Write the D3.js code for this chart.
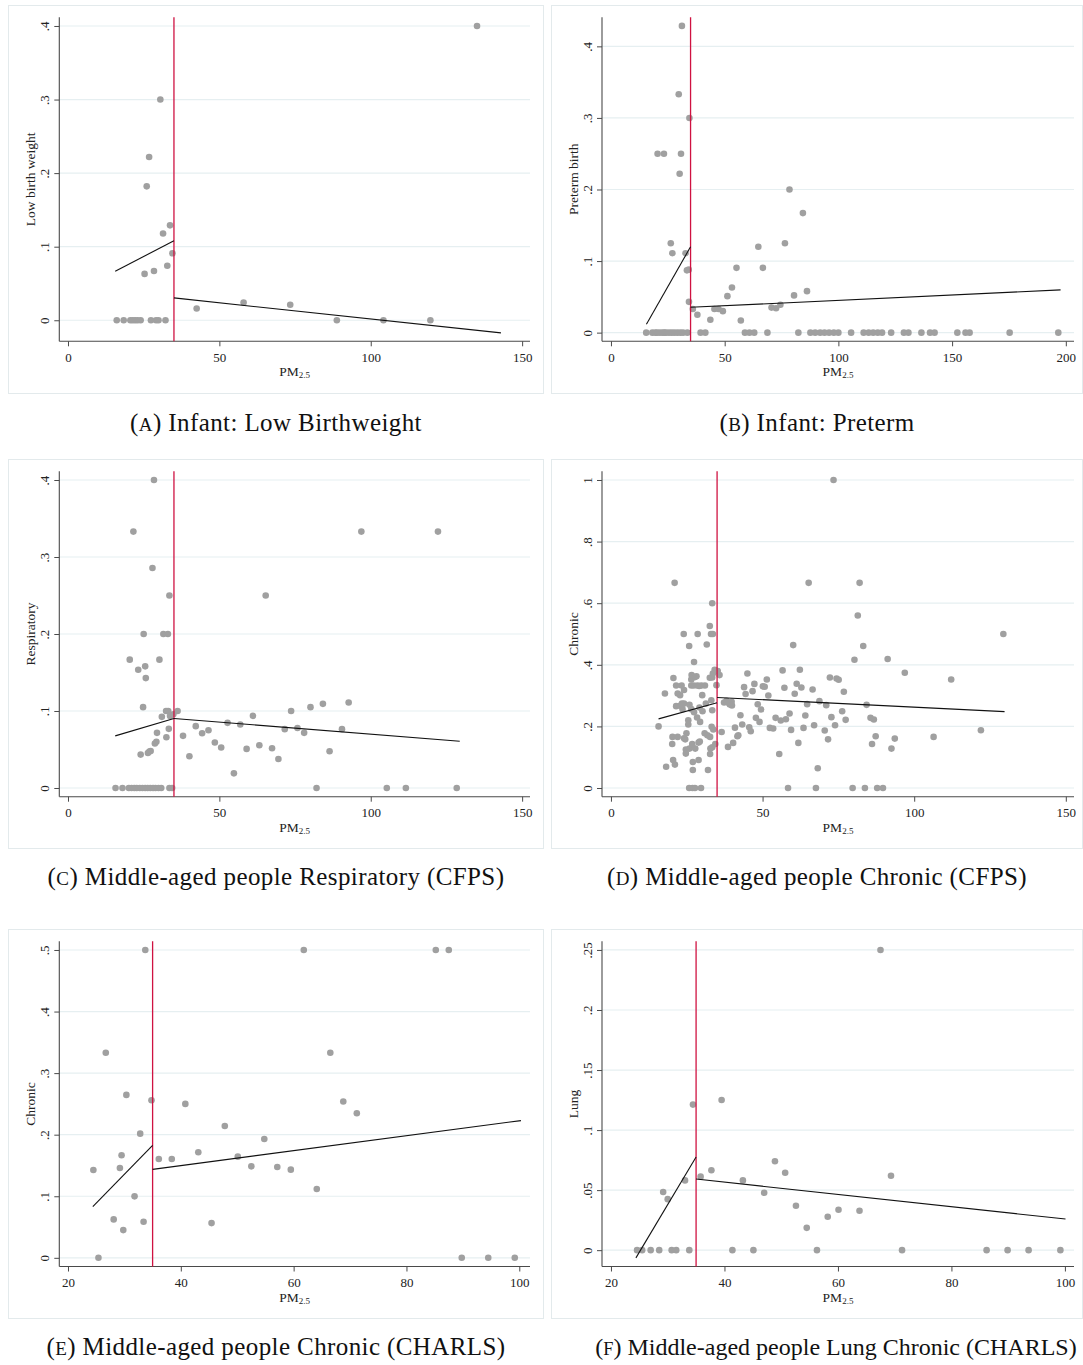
<!DOCTYPE html>
<html>
<head>
<meta charset="utf-8">
<script src="https://cdn.jsdelivr.net/npm/d3@7"></script>
<style>
  body { margin: 0; background: #fff; }
  svg { display: block; }
</style>
</head>
<body>
<svg id="fig" width="1083" height="1365"></svg>
<script>
// ---- Data: [PM2.5, rate] per city -------------------------------------
const lowBirthWeight = [
  [135.1,0.4],[30.5,0.3],[26.8,0.222],[26.0,0.182],[33.7,0.129],[31.4,0.118],
  [34.5,0.091],[32.8,0.074],[28.4,0.067],[25.3,0.063],[42.5,0.016],[58.0,0.024],
  [73.4,0.021],[88.8,0],[104.2,0],[119.7,0],[16.1,0],[18.4,0],[20.6,0],[21.4,0],
  [22.2,0],[23.0,0],[24.0,0],[27.4,0],[29.1,0],[29.9,0],[32.2,0]
];
const lowBirthWeightFit = [[[15.6,0.0667],[35,0.108]], [[35,0.0304],[143.0,-0.0172]]];

const pretermBirth = [
  [31.2,0.4286],[29.8,0.333],[34.5,0.3],[20.5,0.25],[23.3,0.25],[30.8,0.25],[30.2,0.222],
  [26.3,0.125],[27.0,0.111],[32.8,0.111],[33.4,0.087],[34.2,0.088],[34.3,0.043],
  [36.0,0.033],[38.0,0.025],[43.7,0.018],[45.5,0.033],[47.3,0.033],[49.2,0.030],
  [51.2,0.051],[53.2,0.063],[55.2,0.0905],[57.1,0.017],[64.8,0.12],[66.8,0.0905],
  [70.6,0.035],[72.6,0.034],[74.5,0.039],[76.5,0.125],[78.5,0.2],[80.5,0.052],
  [84.4,0.167],[86.2,0.058],
  [15.5,0],[18.2,0],[19.5,0],[20.3,0],[21.5,0],[22.7,0],[23.5,0],[24.2,0],[25.5,0],
  [26.7,0],[27.9,0],[29.2,0],[30.5,0],[31.7,0],[33.6,0],[39.4,0],[41.5,0],[58.9,0],
  [60.9,0],[63.0,0],[68.8,0],[82.4,0],[87.7,0],[89.8,0],[92.0,0],[93.9,0],[95.9,0],
  [98.0,0],[100.0,0],[105.6,0],[111.1,0],[113.3,0],[115.3,0],[117.3,0],[119.2,0],
  [123.2,0],[128.8,0],[130.8,0],[136.5,0],[140.3,0],[142.3,0],[152.3,0],[155.9,0],
  [157.7,0],[175.3,0],[196.7,0]
];
const pretermBirthFit = [[[15.6,0.0117],[35,0.12]], [[35,0.0354],[197.7,0.0597]]];

const respiratoryCfps = [
  [28.4,0.4],[21.6,0.333],[96.9,0.333],[122.2,0.333],[27.9,0.2857],[33.5,0.25],
  [65.3,0.25],[25.0,0.2],[31.5,0.2],[33.0,0.2],[20.4,0.1667],[30.2,0.1667],
  [23.2,0.1536],[25.5,0.158],[25.7,0.1427],[24.8,0.105],[32.4,0.1],[33.1,0.1],
  [36.2,0.1],[31.0,0.0924],[33.7,0.0935],[34.8,0.0957],[33.3,0.0768],[29.4,0.0716],
  [29.2,0.060],[28.7,0.0577],[26.9,0.0473],[27.3,0.048],[26.4,0.0455],[24.0,0.0434],
  [32.5,0.066],[38.0,0.0677],[40.1,0.0412],[42.2,0.0803],[44.3,0.0711],[46.4,0.075],
  [48.5,0.059],[50.6,0.0525],[52.7,0.0846],[54.8,0.019],[56.9,0.0824],[59.0,0.0508],
  [61.1,0.0937],[63.2,0.0555],[67.4,0.0516],[69.5,0.0377],[71.6,0.0764],[73.7,0.1],
  [75.8,0.078],[78.0,0.0716],[80.1,0.105],[84.2,0.1093],[86.4,0.0477],[90.5,0.0764],
  [92.7,0.111],
  [15.7,0],[18.0,0],[20.1,0],[21.0,0],[21.9,0],[22.7,0],[23.7,0],[24.6,0],[25.5,0],
  [26.3,0],[27.2,0],[28.1,0],[28.9,0],[29.9,0],[30.8,0],[33.5,0],[34.4,0],[82.1,0],
  [105.3,0],[111.6,0],[128.4,0]
];
const respiratoryCfpsFit = [[[15.6,0.0677],[35,0.0903]], [[35,0.0903],[129.4,0.0607]]];

const chronicCfps = [
  [73.4,1.0],[21.0,0.666],[65.2,0.666],[82.0,0.666],[33.4,0.6],[81.4,0.56],[129.4,0.5],
  [32.6,0.526],[24.0,0.5],[28.6,0.5],[33.0,0.5],[33.6,0.5],[60.1,0.464],[83.2,0.461],
  [25.8,0.461],[31.6,0.466],[27.4,0.409],[80.3,0.4165],[91.25,0.4187],[96.9,0.374],
  [112.2,0.3525],[122.0,0.1876],[106.4,0.166],[20.6,0.357],[17.8,0.307],[15.7,0.2],
  [18.2,0.069],[20.3,0.166],[20.2,0.143],[20.5,0.091],[21.1,0.076],[21.5,0.333],
  [22.0,0.307],[23.3,0.333],[24.1,0.318],[22.8,0.3015],[21.5,0.2657],[22.8,0.267],
  [23.4,0.274],[24.1,0.274],[23.6,0.256],[22.0,0.166],[24.1,0.1616],[24.5,0.158],
  [24.9,0.178],[24.7,0.1247],[24.7,0.1117],[25.5,0.206],[25.5,0.22],[25.9,0.128],
  [26.8,0.1355],[26.8,0.143],[27.0,0.0846],[27.0,0.0586],[27.8,0.128],[28.9,0.091],
  [28.9,0.1475],[29.3,0.1507],[28.4,0.229],[29.4,0.2147],[30.2,0.2494],[29.2,0.2614],
  [27.4,0.246],[26.5,0.256],[25.9,0.27],[26.5,0.333],[26.5,0.3525],[26.6,0.3666],
  [27.7,0.36],[28.2,0.363],[27.3,0.333],[28.5,0.333],[29.1,0.331],[29.8,0.333],
  [31.0,0.333],[30.1,0.3015],[31.3,0.274],[32.0,0.0586],[30.9,0.178],[31.8,0.171],
  [32.7,0.166],[32.8,0.128],[32.7,0.1106],[33.4,0.132],[33.2,0.1985],[33.75,0.19],
  [34.4,0.143],[33.1,0.285],[33.4,0.2527],[32.6,0.358],[33.4,0.359],[34.2,0.384],
  [34.9,0.38],[34.8,0.334],[33.6,0.372],[35.8,0.3666],[35.2,0.38],[36.5,0.182],
  [38.6,0.1334],[37.3,0.2777],[38.1,0.283],[38.75,0.2766],[39.2,0.271],[39.8,0.28],
  [39.9,0.268],[40.3,0.1464],[40.9,0.196],[41.7,0.168],[42.0,0.171],[42.7,0.2364],
  [43.3,0.206],[43.9,0.3275],[44.4,0.305],[45.0,0.372],[45.6,0.1974],[46.1,0.1844],
  [46.7,0.3145],[47.3,0.338],[47.8,0.2278],[48.4,0.272],[49.0,0.2147],[49.5,0.255],
  [50.1,0.33],[50.7,0.3286],[51.4,0.3525],[51.9,0.3004],[52.4,0.1952],[53.5,0.193],
  [54.3,0.2278],[55.5,0.1106],[56.0,0.219],[56.6,0.3818],[57.2,0.3254],[57.7,0.2234],
  [58.4,0],[58.9,0.2419],[59.4,0.1887],[60.6,0.3059],[61.25,0.3384],[61.8,0.1464],
  [62.3,0.384],[62.8,0.3265],[63.5,0.1952],[64.1,0.2353],[64.7,0.2722],[66.5,0.32],
  [67.0,0.2039],[67.6,0],[68.2,0.064],[68.75,0.282],[70.5,0.1865],[71.0,0.269],
  [71.6,0.158],[72.2,0.359],[72.7,0.23],[73.9,0.2039],[74.4,0.3557],[75.1,0.3514],
  [76.25,0.2494],[76.8,0.3124],[77.4,0.2213],[79.7,0],[83.75,0],[84.3,0.27],
  [85.6,0.2278],[86.1,0.143],[86.7,0.2223],[87.3,0.168],[87.8,0],[89.7,0],
  [92.5,0.128],[93.6,0.1605],[25.8,0],[26.9,0],[27.7,0],[29.7,0]
];
const chronicCfpsFit = [[[15.7,0.2245],[35,0.2766]], [[35,0.294],[129.8,0.248]]];

const chronicCharls = [
  [33.7,0.5],[61.8,0.5],[85.2,0.5],[87.5,0.5],[26.7,0.333],[66.5,0.333],[30.35,0.2646],
  [34.8,0.256],[40.8,0.25],[68.8,0.2538],[71.2,0.2348],[47.8,0.2142],[32.8,0.2017],
  [54.8,0.193],[43.1,0.1714],[29.5,0.1665],[36.1,0.1605],[38.4,0.1605],[50.1,0.1643],
  [52.5,0.1486],[57.1,0.1475],[59.5,0.1432],[24.5,0.1426],[29.2,0.1459],[64.1,0.1117],
  [31.8,0.0998],[28.1,0.0624],[33.4,0.0586],[45.45,0.0564],[29.8,0.045],[25.4,0],
  [89.8,0],[94.5,0],[99.2,0]
];
const chronicCharlsFit = [[[24.4,0.083],[35,0.1828]], [[35,0.1437],[100.3,0.2229]]];

const lungCharls = [
  [67.5,0.25],[39.5,0.1251],[34.45,0.1212],[48.9,0.074],[37.7,0.0665],[50.7,0.0645],
  [69.35,0.062],[35.8,0.0612],[33.05,0.0581],[43.25,0.0581],[29.2,0.0484],[47.0,0.0478],
  [30.0,0.0425],[52.6,0.037],[60.1,0.0336],[63.8,0.0328],[58.2,0.0278],[54.5,0.0186],
  [24.6,0],[25.5,0],[27.0,0],[28.5,0],[30.7,0],[31.5,0],[33.8,0],[41.4,0],[45.1,0],
  [56.3,0],[71.3,0],[86.2,0],[89.9,0],[93.6,0],[99.2,0]
];
const lungCharlsFit = [[[24.4,-0.0064],[35,0.0776]], [[35,0.0592],[100.1,0.0259]]];

// ---- Axis ticks --------------------------------------------------------
const ticksPm150 = [0, 50, 100, 150];
const ticksPm200 = [0, 50, 100, 150, 200];
const ticksPm100 = [20, 40, 60, 80, 100];
const ticksRate04 = [0, 0.1, 0.2, 0.3, 0.4];
const ticksRate1 = [0, 0.2, 0.4, 0.6, 0.8, 1];
const ticksRate05 = [0, 0.1, 0.2, 0.3, 0.4, 0.5];
const ticksRate025 = [0, 0.05, 0.1, 0.15, 0.2, 0.25];

const threshold = 35;   // PM2.5 cut-off marked by the vertical line

// ---- Panel definitions -------------------------------------------------
const panels = [
  { col: 0, row: 0, tag: "A", caption: " Infant: Low Birthweight", ylab: "Low birth weight",
    pts: lowBirthWeight, fit: lowBirthWeightFit, xt: ticksPm150, yt: ticksRate04,
    xd: [-2.87, 152.6], yd: [-0.0286, 0.4118] },
  { col: 1, row: 0, tag: "B", caption: " Infant: Preterm", ylab: "Preterm birth",
    pts: pretermBirth, fit: pretermBirthFit, xt: ticksPm200, yt: ticksRate04,
    xd: [-3.94, 203.6], yd: [-0.0121, 0.4406] },
  { col: 0, row: 1, tag: "C", caption: " Middle-aged people Respiratory (CFPS)", ylab: "Respiratory",
    pts: respiratoryCfps, fit: respiratoryCfpsFit, xt: ticksPm150, yt: ticksRate04,
    xd: [-2.87, 152.6], yd: [-0.0113, 0.4113] },
  { col: 1, row: 1, tag: "D", caption: " Middle-aged people Chronic (CFPS)", ylab: "Chronic",
    pts: chronicCfps, fit: chronicCfpsFit, xt: ticksPm150, yt: ticksRate1,
    xd: [-2.95, 152.7], yd: [-0.0282, 1.0282] },
  { col: 0, row: 2, tag: "E", caption: " Middle-aged people Chronic (CHARLS)", ylab: "Chronic",
    pts: chronicCharls, fit: chronicCharlsFit, xt: ticksPm100, yt: ticksRate05,
    xd: [18.46, 101.9], yd: [-0.0141, 0.5141] },
  { col: 1, row: 2, tag: "F", caption: " Middle-aged people Lung Chronic (CHARLS)", ylab: "Lung",
    pts: lungCharls, fit: lungCharlsFit, xt: ticksPm100, yt: ticksRate025,
    xd: [18.42, 101.6], yd: [-0.0136, 0.2572], capShift: 19, capSize: 24 }
];

// ---- Layout ------------------------------------------------------------
const cols = [
  { boxL: 8, boxR: 544, plotL: 59.3, plotR: 530 },
  { boxL: 551, boxR: 1083, plotL: 602, plotR: 1074 }
];
const rows = [
  { boxT: 5, boxB: 394, plotT: 17.3, plotB: 341.3, capY: 431 },
  { boxT: 459, boxB: 849, plotT: 471.3, plotB: 796.7, capY: 885 },
  { boxT: 929, boxB: 1319, plotT: 941.3, plotB: 1266.5, capY: 1355 }
];

const serif = "'Liberation Serif', 'Times New Roman', serif";
const svg = d3.select("#fig");
const fmt = d => d === 0 ? "0" : String(+d.toFixed(3)).replace(/^0\./, ".");

panels.forEach(p => {
  const c = cols[p.col], r = rows[p.row];
  const g = svg.append("g");

  // frame around the graph
  g.append("rect")
    .attr("x", c.boxL + 0.5).attr("y", r.boxT + 0.5)
    .attr("width", c.boxR - c.boxL - 1).attr("height", r.boxB - r.boxT - 1)
    .attr("fill", "#fff").attr("stroke", "#e3eaec").attr("stroke-width", 1);

  const x = d3.scaleLinear().domain(p.xd).range([c.plotL, c.plotR]);
  const y = d3.scaleLinear().domain(p.yd).range([r.plotB, r.plotT]);

  // horizontal grid
  g.append("g").selectAll("line").data(p.yt).join("line")
    .attr("x1", c.plotL).attr("x2", c.plotR)
    .attr("y1", d => y(d)).attr("y2", d => y(d))
    .attr("stroke", "#e6eff1").attr("stroke-width", 1.2);

  // axes
  const xAxis = d3.axisBottom(x).tickValues(p.xt).tickFormat(fmt).tickSize(5).tickPadding(3);
  const yAxis = d3.axisLeft(y).tickValues(p.yt).tickFormat(fmt).tickSize(5).tickPadding(4);

  const gx = g.append("g").attr("transform", `translate(0,${r.plotB})`).call(xAxis);
  gx.select(".domain").attr("d", `M${c.plotL},0H${c.plotR}`);
  const gy = g.append("g").attr("transform", `translate(${c.plotL},0)`).call(yAxis);
  gy.select(".domain").attr("d", `M0,${r.plotT}V${r.plotB}`);

  [gx, gy].forEach(a => {
    a.selectAll(".domain").attr("stroke", "#4a4a4a").attr("stroke-width", 1.1);
    a.selectAll(".tick line").attr("stroke", "#4a4a4a").attr("stroke-width", 1);
    a.selectAll("text").attr("font-family", serif).attr("font-size", 13).attr("fill", "#222");
  });
  gx.selectAll(".tick text").attr("dy", "0.95em");
  // rotated y tick labels (reading upward)
  gy.selectAll(".tick text")
    .attr("text-anchor", "middle").attr("x", null).attr("dy", null)
    .attr("transform", "translate(-10,0) rotate(-90)");

  // axis titles
  g.append("text")
    .attr("transform", `translate(${c.plotL - 24},${(r.plotT + r.plotB) / 2}) rotate(-90)`)
    .attr("text-anchor", "middle").attr("font-family", serif).attr("font-size", 13.5)
    .attr("fill", "#222").text(p.ylab);

  const xt = g.append("text")
    .attr("x", (c.plotL + c.plotR) / 2).attr("y", r.plotB + 35)
    .attr("text-anchor", "middle").attr("font-family", serif).attr("font-size", 13.5)
    .attr("fill", "#222");
  xt.append("tspan").text("PM");
  xt.append("tspan").attr("font-size", 9).attr("dy", 2).text("2.5");

  // scatter
  g.append("g").selectAll("circle").data(p.pts).join("circle")
    .attr("cx", d => x(d[0])).attr("cy", d => y(d[1])).attr("r", 3.3)
    .attr("fill", "#a0a0a0");

  // threshold line
  g.append("line")
    .attr("x1", x(threshold)).attr("x2", x(threshold))
    .attr("y1", r.plotT).attr("y2", r.plotB)
    .attr("stroke", "#cf1241").attr("stroke-width", 1.3);

  // piecewise linear fits
  const line = d3.line().x(d => x(d[0])).y(d => y(d[1]));
  g.append("g").selectAll("path").data(p.fit).join("path")
    .attr("d", line).attr("fill", "none").attr("stroke", "#111").attr("stroke-width", 1.1);

  // caption
  const size = p.capSize || 25;
  const cap = svg.append("text")
    .attr("x", (c.boxL + c.boxR) / 2 + (p.capShift || 0)).attr("y", r.capY)
    .attr("text-anchor", "middle").attr("font-family", serif).attr("font-size", size)
    .attr("letter-spacing", size === 25 ? 0.4 : 0).attr("fill", "#111");
  cap.append("tspan").text("(");
  cap.append("tspan").attr("font-size", size * 0.76).text(p.tag);
  cap.append("tspan").text(")" + p.caption);
});
</script>
</body>
</html>
